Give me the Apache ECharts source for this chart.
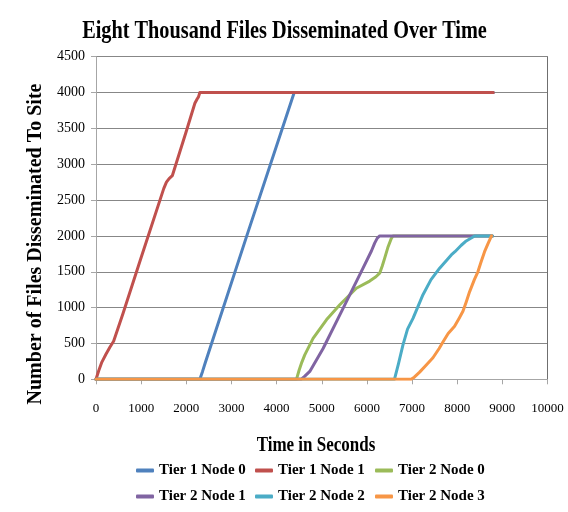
<!DOCTYPE html>
<html>
<head>
<meta charset="utf-8">
<script src="https://cdn.jsdelivr.net/npm/echarts@6/dist/echarts.min.js"></script>
<style>
html,body{margin:0;padding:0;background:#fff;}
#chart{width:568px;height:512px;}
</style>
</head>
<body>
<div id="chart"></div>
<script>
// ---- data (time in seconds, number of files) ----
const seriesNames = ['Tier 1 Node 0','Tier 1 Node 1','Tier 2 Node 0','Tier 2 Node 1','Tier 2 Node 2','Tier 2 Node 3'];
const tier1Node0 = [[0,0],[2300,0],[2360,110],[2420,230],[3334,1990],[4390,4000],[8800,4000]];
const tier1Node1 = [[0,0],[60,120],[130,240],[220,350],[310,450],[390,530],[600,920],[1000,1700],[1500,2660],[1560,2750],[1620,2800],[1690,2840],[2000,3460],[2190,3850],[2240,3910],[2270,3940],[2300,4000],[8800,4000]];
const tier2Node0 = [[0,0],[4440,0],[4500,130],[4560,240],[4624,340],[4808,570],[5104,830],[5400,1040],[5766,1270],[6062,1370],[6200,1430],[6283,1480],[6340,1580],[6394,1690],[6470,1850],[6541,1966],[6580,2000],[8780,2000]];
const tier2Node1 = [[0,0],[4540,0],[4620,40],[4735,110],[5030,430],[5472,990],[5914,1550],[6100,1790],[6172,1900],[6230,1970],[6283,2000],[8780,2000]];
const tier2Node2 = [[0,0],[6610,0],[6700,220],[6799,480],[6900,700],[7021,850],[7242,1180],[7420,1390],[7611,1550],[7869,1735],[7950,1780],[8090,1870],[8200,1930],[8311,1970],[8385,2000],[8780,2000]];
const tier2Node3 = [[0,0],[6980,0],[7050,30],[7168,100],[7300,190],[7463,300],[7600,430],[7684,520],[7800,640],[7942,740],[8050,860],[8127,950],[8200,1080],[8274,1220],[8380,1390],[8458,1500],[8530,1640],[8606,1780],[8680,1890],[8760,2000]];
const allSeries = [tier1Node0, tier1Node1, tier2Node0, tier2Node1, tier2Node2, tier2Node3];
const colors = ['#4F81BD','#C0504D','#9BBB59','#8064A2','#4BACC6','#F79646'];
const xTicks = {min:0, max:10000, interval:1000};
const yTicks = {min:0, max:4500, interval:500};

const titleText = 'Eight Thousand Files Disseminated Over Time';
const xTitle = 'Time in Seconds';
const yTitle = 'Number of Files Disseminated To Site';
const SERIF = '"Liberation Serif", "Times New Roman", serif';

const chart = echarts.init(document.getElementById('chart'), null, {renderer:'canvas'});
const legendText = {fontFamily: SERIF, fontWeight:'bold', fontSize:15, color:'#000'};
const legendCols = [138, 257, 377];
const legendRows = [463, 489];
const legends = seriesNames.map((n, i) => ({
  orient:'horizontal', itemWidth:18, itemHeight:4, itemGap:0, icon:'roundRect', padding:0,
  textStyle: legendText, selectedMode:false,
  left: legendCols[i % 3] - 2, top: legendRows[Math.floor(i / 3)], data:[n]
}));
const plain = v => String(v);
chart.setOption({
  animation:false,
  backgroundColor:'#fff',
  color: colors,
  grid:{left:96, right:20.5, top:56.7, bottom:132.7, containLabel:false},
  xAxis:{
    type:'value', min:xTicks.min, max:xTicks.max, interval:xTicks.interval,
    axisLine:{show:true, lineStyle:{color:'#a6a6a6', width:1}},
    axisTick:{show:true, inside:false, length:5, lineStyle:{color:'#a6a6a6'}},
    axisLabel:{margin:23, fontFamily:SERIF, fontSize:13, color:'#000', formatter:plain},
    splitLine:{show:false}
  },
  yAxis:[{
    type:'value', min:yTicks.min, max:yTicks.max, interval:yTicks.interval,
    axisLine:{show:true, lineStyle:{color:'#a6a6a6', width:1}},
    axisTick:{show:true, inside:false, length:5, lineStyle:{color:'#a6a6a6'}},
    axisLabel:{margin:11, fontFamily:SERIF, fontSize:14, color:'#000', formatter:plain},
    splitLine:{show:true, lineStyle:{color:'#878787', width:1}}
  },{
    type:'value', position:'right', min:yTicks.min, max:yTicks.max, interval:yTicks.interval,
    axisLine:{show:true, lineStyle:{color:'#6f6f6f', width:1}},
    axisTick:{show:false}, axisLabel:{show:false}, splitLine:{show:false}
  }],
  legend: legends,
  graphic:[
    {type:'text', x:284.5, y:31, scaleX:0.78, z:10,
     style:{text:titleText, font:'bold 26px ' + SERIF, fill:'#000', align:'center', verticalAlign:'middle'}},
    {type:'text', x:316, y:446, scaleX:0.85, z:10,
     style:{text:xTitle, font:'bold 20px ' + SERIF, fill:'#000', align:'center', verticalAlign:'middle'}},
    {type:'text', x:36, y:244, rotation:Math.PI/2, z:10,
     style:{text:yTitle, font:'bold 20px ' + SERIF, fill:'#000', align:'center', verticalAlign:'middle'}}
  ],
  series: allSeries.map((d, i) => ({
    name: seriesNames[i], type:'line', data:d, showSymbol:false, symbol:'none',
    yAxisIndex:0,
    lineStyle:{width:3, color:colors[i], cap:'round', join:'round'},
    itemStyle:{color:colors[i]},
    z: 2 + i
  }))
});
</script>
</body>
</html>
